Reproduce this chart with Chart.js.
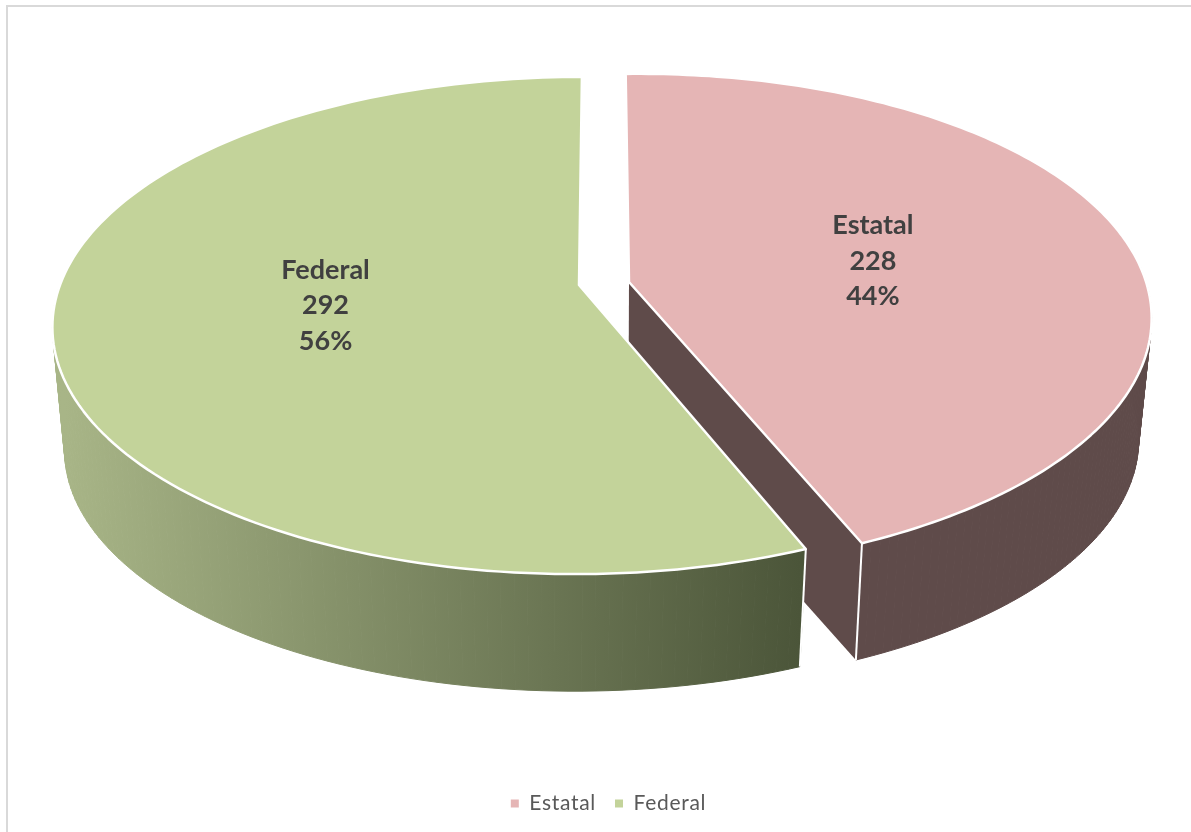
<!DOCTYPE html>
<html>
<head>
<meta charset="utf-8">
<title>Estatal / Federal</title>
<script src="https://cdn.jsdelivr.net/npm/chart.js@4"></script>
<style>
  html, body { margin: 0; padding: 0; background: #fff; }
  canvas { display: block; }
</style>
</head>
<body>
<canvas id="pie" width="1191" height="832"></canvas>
<script>
const categories = ['Estatal', 'Federal'];
const values = [228, 292];
const topColors = ['#e5b5b5', '#c3d39a'];

// fake 3D: the arcs come from Chart.js, this just projects their angles
const RY = 242, PERSP = -0.163, BOTTOM_SCALE = 0.976;
const radiusX = [515, 519];
const skewX = [0.016, -0.014];
const skewY = [-0.012, 0];
const topOrigin = [{ x: 629, y: 282 }, { x: 579, y: 285 }];
const bottomOrigin = [{ x: 628.5, y: 405 }, { x: 578.5, y: 409 }];
const labelNudge = [1.5, -2.5];

function project(angle, o, i, r = 1, scale = 1) {
    const ux = Math.cos(angle) * r, uy = Math.sin(angle) * r;
    const d = 1 + PERSP * uy;
    const dx = radiusX[i] * ux / d, dy = RY * uy / d;
    return {
        x: o.x + (dx + skewX[i] * dy) * scale,
        y: o.y + (dy + skewY[i] * dx) * scale
    };
}

function arcPoints(arc, fn) {
    const pts = [];
    for (let n = 0; n <= 160; n++) {
        pts.push(fn(arc.startAngle + (arc.endAngle - arc.startAngle) * n / 160));
    }
    return pts;
}

function polygon(ctx, pts) {
    ctx.beginPath();
    pts.forEach((p, n) => n ? ctx.lineTo(p.x, p.y) : ctx.moveTo(p.x, p.y));
    ctx.closePath();
}

const pie3d = {
    id: 'pie3d',
    beforeUpdate(chart) {
        chart.ctx.letterSpacing = '0.7px'; // legend text runs a bit wide
    },
    beforeDraw(chart) {
        const ctx = chart.ctx;
        ctx.save();
        ctx.fillStyle = '#d9d9d9';
        ctx.fillRect(6, 5, 1185, 2);
        ctx.fillRect(6, 5, 2, 827);
        ctx.restore();
    },
    beforeDatasetsDraw(chart) {
        const ctx = chart.ctx;
        const arcs = chart.getDatasetMeta(0).data;
        const total = values.reduce((a, b) => a + b, 0);
        ctx.save();
        ctx.letterSpacing = '0px';
        ctx.lineJoin = 'round';

        arcs.forEach((arc, i) => {
            const top = arcPoints(arc, a => project(a, topOrigin[i], i));
            const bottom = arcPoints(arc, a => project(a, bottomOrigin[i], i, 1, BOTTOM_SCALE));

            // outer wall, one quad per step so the silhouette stays straight
            let wall = '#5f4b4a';
            if (i === 1) {
                wall = ctx.createLinearGradient(65, 0, 800, 0);
                wall.addColorStop(0, '#a8b587');
                wall.addColorStop(1, '#4b5539');
            }
            ctx.fillStyle = wall;
            ctx.strokeStyle = wall;
            ctx.lineWidth = 1;
            for (let n = 0; n < top.length - 1; n++) {
                if (top[n].y < topOrigin[i].y - 100) continue; // back rim, hidden
                polygon(ctx, [top[n], top[n + 1], bottom[n + 1], bottom[n]]);
                ctx.fill();
                ctx.stroke();
            }

            // cut face of the pulled out slice
            if (i === 0) {
                polygon(ctx, [topOrigin[i], top[top.length - 1], bottom[bottom.length - 1], bottomOrigin[i]]);
                ctx.fill();
            }

            // white line on the front corner
            const corner = i === 0 ? top.length - 1 : 0;
            ctx.beginPath();
            ctx.moveTo(top[corner].x, top[corner].y);
            ctx.lineTo(bottom[corner].x, bottom[corner].y);
            ctx.strokeStyle = '#fff';
            ctx.lineWidth = 2;
            ctx.stroke();

            // top face
            polygon(ctx, [topOrigin[i]].concat(top));
            ctx.fillStyle = arc.options.backgroundColor;
            ctx.fill();
            ctx.strokeStyle = '#fff';
            ctx.lineWidth = 2.5;
            ctx.stroke();
        });

        // labels
        ctx.font = 'bold 27px Lato';
        ctx.fillStyle = '#404040';
        ctx.textAlign = 'center';
        ctx.textBaseline = 'middle';
        arcs.forEach((arc, i) => {
            const mid = (arc.startAngle + arc.endAngle) / 2;
            const ux = Math.cos(mid) * 0.49, uy = Math.sin(mid) * 0.49;
            const d = 1 + PERSP * uy;
            const cx = topOrigin[i].x + radiusX[i] * ux / d;
            const cy = topOrigin[i].y + RY * uy / d + labelNudge[i];
            const pct = Math.round(values[i] / total * 100) + '%';
            [categories[i], String(values[i]), pct].forEach((t, n) => {
                ctx.fillText(t, cx, cy + (n - 1) * 35.5);
            });
        });
        ctx.restore();
        return false;
    }
};

new Chart(document.getElementById('pie'), {
    type: 'pie',
    data: {
        labels: categories,
        datasets: [{ data: values, backgroundColor: topColors, borderWidth: 0 }]
    },
    options: {
        responsive: false,
        animation: false,
        layout: { padding: { left: 26, bottom: 8 } },
        plugins: {
            tooltip: { enabled: false },
            legend: {
                position: 'bottom',
                labels: {
                    font: { family: 'Lato', size: 21 },
                    color: '#595959',
                    usePointStyle: true,
                    pointStyle: 'rect',
                    boxWidth: 8,
                    boxHeight: 8,
                    padding: 19
                }
            }
        }
    },
    plugins: [pie3d]
});
</script>
</body>
</html>
